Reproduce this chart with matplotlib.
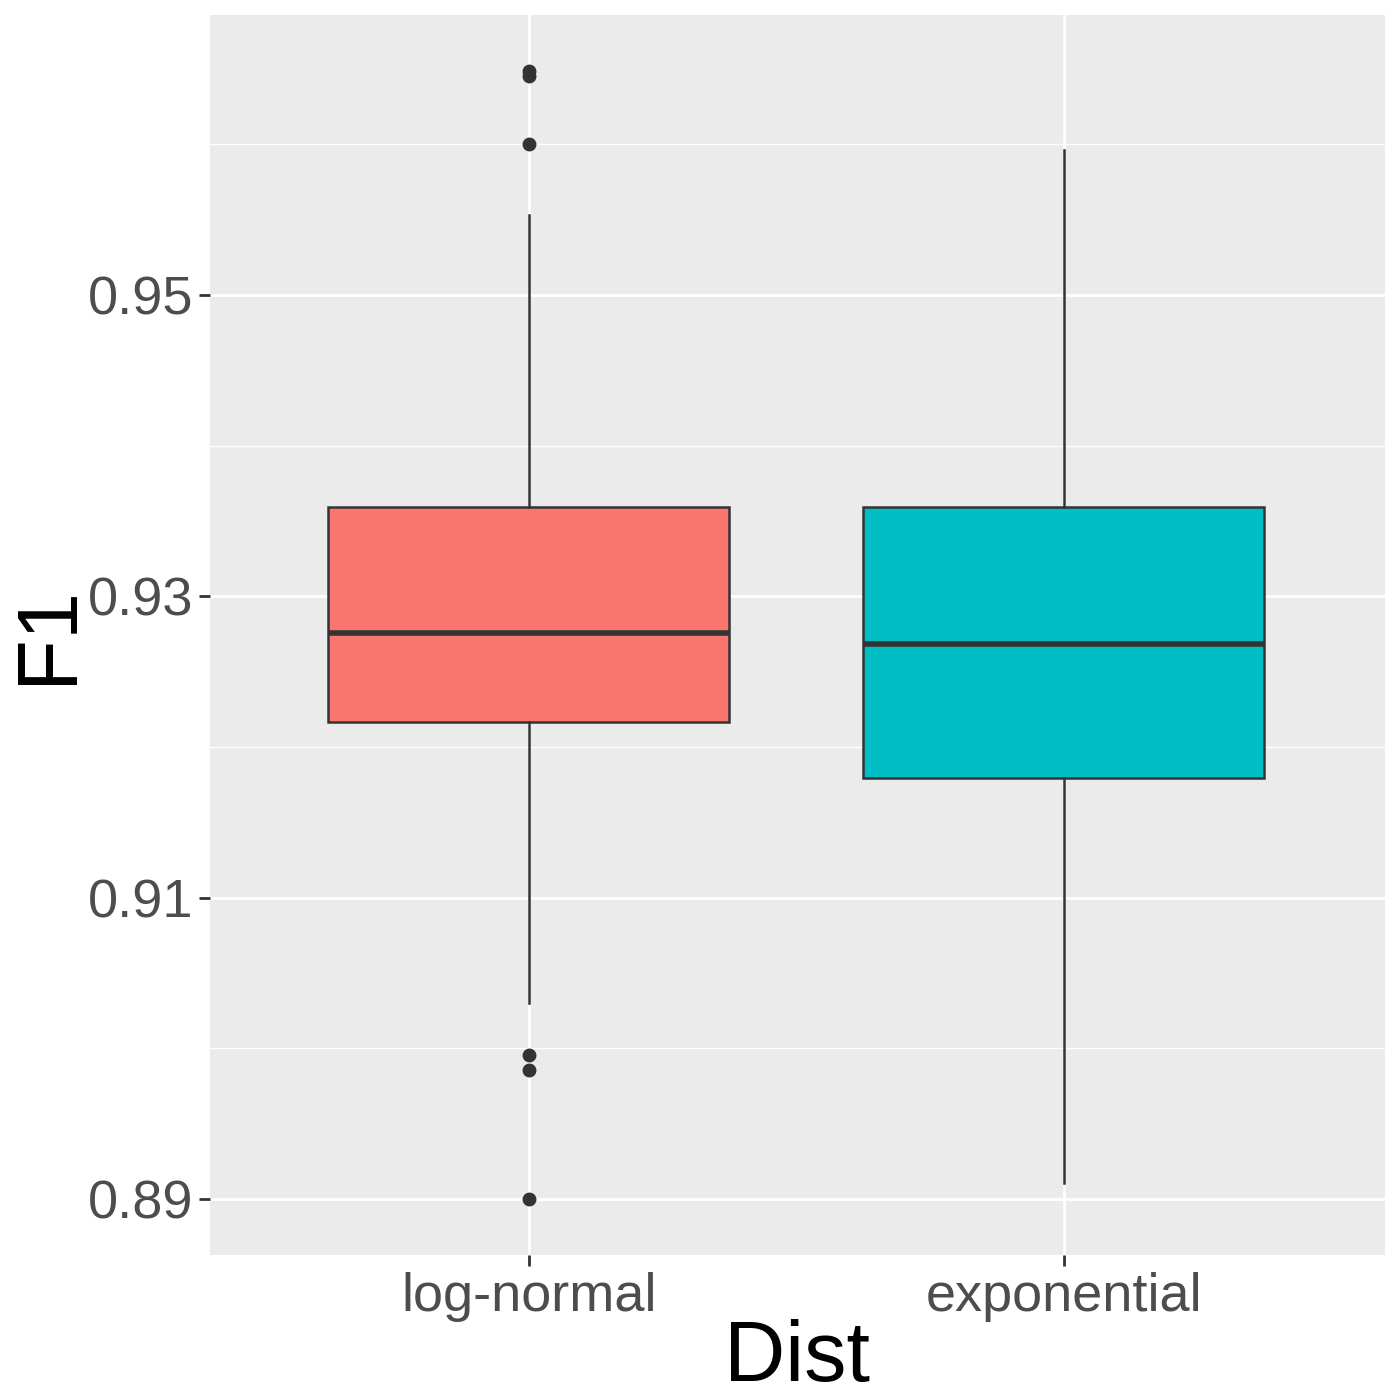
import matplotlib
matplotlib.use("Agg")
import matplotlib.pyplot as plt

categories = ["log-normal", "exponential"]
q1 = [0.92166, 0.91794]
median = [0.92756, 0.92683]
q3 = [0.93593, 0.93593]
whislo = [0.9030, 0.89106]
whishi = [0.95531, 0.95962]
fliers = [[0.96487, 0.96454, 0.96002, 0.89955, 0.89856, 0.8900], []]
fills = ["#F8766D", "#00BFC4"]
yticks = [0.89, 0.91, 0.93, 0.95]
yminor = [0.90, 0.92, 0.94, 0.96]

plt.rcParams['font.family'] = ['Liberation Sans', 'DejaVu Sans']
fig = plt.figure(figsize=(14, 14), dpi=100)
ax = fig.add_axes([0.15, 0.1036, 0.839, 0.8857])
ax.set_facecolor("#EBEBEB")
for s in ax.spines.values():
    s.set_visible(False)

for y in yminor:
    ax.axhline(y, color="white", lw=1.0, zorder=0)
for y in yticks:
    ax.axhline(y, color="white", lw=2.0, zorder=0)
for x in [1, 2]:
    ax.axvline(x, color="white", lw=2.0, zorder=0)

stats = []
for i in range(2):
    stats.append(dict(med=median[i], q1=q1[i], q3=q3[i], whislo=whislo[i],
                      whishi=whishi[i], fliers=fliers[i]))
bp = ax.bxp(stats, positions=[1, 2], widths=0.75, patch_artist=True, showcaps=False,
            boxprops=dict(edgecolor="#333333", linewidth=1.8),
            medianprops=dict(color="#333333", linewidth=4.0, solid_capstyle="butt"),
            whiskerprops=dict(color="#333333", linewidth=1.8),
            flierprops=dict(marker="o", markerfacecolor="#333333", markeredgecolor="#333333",
                            markersize=9))
for patch, c in zip(bp["boxes"], fills):
    patch.set_facecolor(c)
    patch.set_zorder(2)

ax.set_xlim(0.404, 2.6)
ax.set_ylim(0.88628, 0.96859)
ax.set_xticks([1, 2])
ax.set_xticklabels(categories)
ax.set_yticks(yticks)
ax.set_yticklabels([f"{v:.2f}" for v in yticks])
ax.tick_params(axis="both", colors="#333333", width=2, length=8, labelsize=39,
               labelcolor="#4D4D4D", pad=4)
ax.set_xlabel("Dist", fontsize=61, color="black", labelpad=-2)
ax.set_ylabel("F1", fontsize=61, color="black", labelpad=-1)

fig.savefig("out.png", dpi=100)
